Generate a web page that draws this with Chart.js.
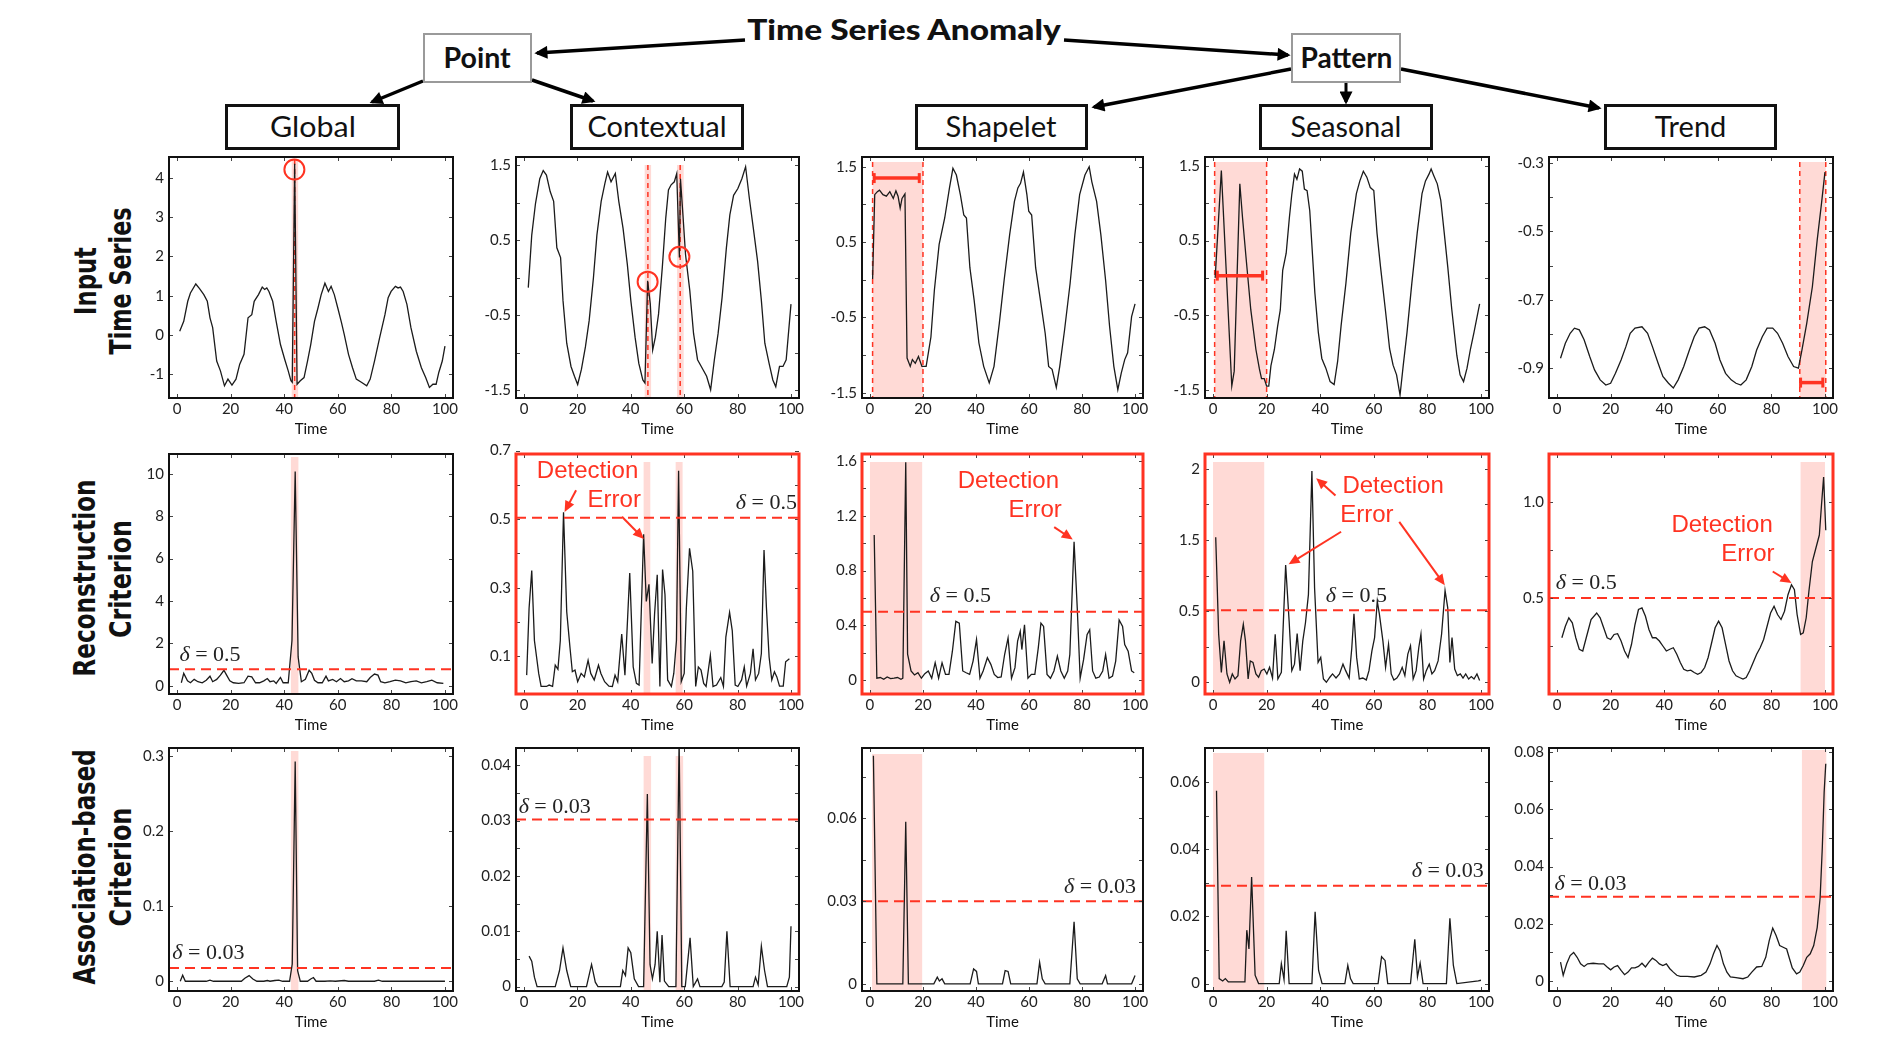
<!DOCTYPE html>
<html lang="en">
<head>
<meta charset="UTF-8">
<title>Time Series Anomaly</title>
<script src="https://cdn.jsdelivr.net/npm/chart.js"></script>
<style>
  html, body { margin: 0; padding: 0; background: #fff; }
  body { width: 1890px; height: 1046px; position: relative; overflow: hidden; font-family: Lato, "Liberation Sans", sans-serif; color: #111; }
  canvas.panel { position: absolute; }
  .hdr { position: absolute; box-sizing: border-box; display: flex; align-items: center; justify-content: center; background: #fff; padding-bottom: 4px; }
  .hdr span, .title span { display: inline-block; white-space: nowrap; }
  .leaf { border: 3px solid #111; font-size: 29px; }
  .root { border: 2px solid #9a9a9a; font-size: 29px; font-weight: 700; }
  .title { position: absolute; font-size: 28px; font-weight: 900; transform: translate(-50%, -50%); }
  .rowlab { position: absolute; white-space: nowrap; font-family: "DejaVu Sans", sans-serif; font-weight: bold; font-size: 30px; line-height: 1; }
  svg.arrows { position: absolute; left: 0; top: 0; }
</style>
</head>
<body>
<svg class="arrows" width="1890" height="160">
  <defs>
    <marker id="ah" viewBox="0 0 10 10" refX="8" refY="5" markerWidth="15" markerHeight="13" markerUnits="userSpaceOnUse" orient="auto">
      <path d="M0,0 L10,5 L0,10 z" fill="#000"/>
    </marker>
  </defs>
  <line x1="745" y1="40" x2="537" y2="53" stroke="#000" stroke-width="3.5" marker-end="url(#ah)"/>
  <line x1="1064" y1="40" x2="1288" y2="55" stroke="#000" stroke-width="3.5" marker-end="url(#ah)"/>
  <line x1="423" y1="81" x2="372" y2="102" stroke="#000" stroke-width="3.5" marker-end="url(#ah)"/>
  <line x1="532" y1="80" x2="593" y2="101" stroke="#000" stroke-width="3.5" marker-end="url(#ah)"/>
  <line x1="1291" y1="69" x2="1094" y2="107" stroke="#000" stroke-width="3.5" marker-end="url(#ah)"/>
  <line x1="1346" y1="83" x2="1346" y2="102" stroke="#000" stroke-width="3" marker-end="url(#ah)"/>
  <line x1="1401" y1="69" x2="1599" y2="108" stroke="#000" stroke-width="3.5" marker-end="url(#ah)"/>
</svg>

<script>
// ---------- data ----------
const xTicks = [0, 20, 40, 60, 80, 100];
const xLabels = ['0', '20', '40', '60', '80', '100'];

// row 1: input time series  [time, value]
const inputGlobal = [[1,0.1],[2.5,0.35],[4,0.86],[5,1.07],[7,1.3],[8.4,1.18],[10,1.03],[11.3,0.86],[12.3,0.44],[13.3,0.19],[14.8,-0.66],[16.2,-0.91],[17.7,-1.29],[19,-1.12],[20.5,-1.27],[22,-1.12],[23.4,-0.74],[25,-0.49],[26.5,0.44],[27.9,0.52],[28.8,0.86],[30.4,1.03],[31.8,1.22],[32.7,1.16],[33.5,1.2],[34.3,1.11],[35.7,0.86],[37,0.35],[38.6,-0.24],[40.2,-0.62],[41.5,-0.91],[42.5,-1.16],[43,-1.2],[43.9,4.36],[44.8,-1.25],[46,-1.16],[47.4,-1.08],[48.7,-0.66],[49.9,-0.24],[51.3,0.35],[52.6,0.69],[53.8,1.03],[55.2,1.32],[56.5,1.11],[57.5,1.24],[58.7,1.03],[60,0.69],[61.4,0.31],[62.4,0.02],[64,-0.49],[65.5,-0.83],[66.9,-1.12],[68.8,-1.2],[70.8,-1.29],[72.1,-1.12],[73.7,-0.66],[75.6,-0.07],[77.6,0.52],[78.8,0.95],[79.9,1.11],[81.5,1.24],[82.5,1.2],[83.4,1.22],[84.4,1.11],[85.8,0.78],[87.3,0.19],[89.3,-0.41],[91.2,-0.83],[92.8,-1.08],[94.2,-1.33],[95.5,-1.25],[96.7,-1.25],[97.7,-0.95],[99,-0.66],[100,-0.28]];
const inputContextual = [[1.6,-0.13],[2.9,0.57],[4.3,0.99],[5.9,1.32],[7.2,1.43],[8.4,1.37],[9.8,1.15],[11.1,1.02],[12.3,0.4],[13.7,0.27],[14.6,-0.3],[16,-0.87],[17.6,-1.18],[18.9,-1.31],[20.1,-1.42],[21.5,-1.22],[23,-0.92],[24.4,-0.57],[26,0],[27.3,0.57],[28.9,1.02],[30.3,1.26],[31.3,1.41],[32.6,1.28],[34.2,1.39],[35.5,1.02],[37.1,0.66],[38.7,0.18],[40,-0.3],[41.6,-0.79],[43,-1.14],[44.5,-1.36],[45.3,-1.4],[46.3,-0.04],[47.3,-0.35],[48.2,-0.96],[49.2,-0.79],[50.4,-0.48],[51.8,0.14],[53.1,0.8],[54.1,1.17],[55.1,1.24],[56.3,1.28],[57.2,1.39],[58.2,0.27],[58.6,1.32],[59.6,0.8],[60.5,0.31],[62.1,-0.17],[63.5,-0.74],[65,-1.09],[66.4,-1.18],[68.4,-1.31],[69.9,-1.49],[71.3,-1.09],[72.7,-0.74],[74.2,-0.26],[75.8,0.4],[77.1,0.84],[78.5,1.1],[80.1,1.19],[81.6,1.32],[83,1.48],[84.4,1.06],[85.9,0.66],[87.5,0.22],[88.9,-0.3],[90.2,-0.87],[91.8,-1.14],[93.2,-1.36],[94.3,-1.45],[95.7,-1.18],[97,-1.18],[98.2,-1.09],[100,-0.35]];
const inputShapelet = [[1,0.01],[1.8,1.13],[2.8,1.17],[3.6,1.19],[4.9,1.13],[6.2,1.11],[7.5,1.17],[8.8,1.08],[9.8,1.18],[10.6,1.11],[11.4,0.95],[12.1,1.08],[13.2,1.14],[14,-1.04],[15.2,-1.15],[16,-1.06],[17.1,-1.11],[18.3,-1.02],[19.6,-1.15],[21.2,-1.15],[23,-0.76],[24.3,-0.14],[26.1,0.47],[28.2,0.82],[30,1.22],[31.3,1.48],[32.6,1.39],[34.1,1.13],[35.4,0.86],[36.4,0.82],[37.7,0.16],[39.3,-0.27],[41.1,-0.84],[42.9,-1.15],[45,-1.37],[46.8,-1.15],[48.8,-0.58],[50.6,-0.01],[52.7,0.6],[54.5,1.04],[55.8,1.22],[56.8,1.28],[57.9,1.43],[59.2,1.13],[59.9,0.91],[61,0.86],[62.5,0.16],[64.3,-0.27],[66.1,-0.71],[67.4,-1.15],[68.7,-1.19],[70.3,-1.43],[71.6,-1.15],[73.4,-0.67],[75.5,-0.05],[77.3,0.6],[79.1,1.13],[81.1,1.39],[82.7,1.5],[83.7,1.3],[85.5,1.04],[87.1,0.6],[88.9,-0.01],[90.4,-0.62],[92,-1.15],[93.5,-1.46],[94.8,-1.24],[96.1,-1.06],[97.2,-0.97],[98.7,-0.49],[100,-0.32]];
const inputSeasonal = [[0.8,0.0],[3.1,1.44],[7,-1.45],[7.9,-1.25],[10,1.26],[11,0.81],[12.3,0.28],[14.1,-0.43],[16,-0.96],[17.3,-1.22],[18.1,-1.35],[19.1,-1.35],[20,-1.45],[20.8,-1.45],[21.6,-1.18],[22.9,-0.96],[24.1,-0.65],[25.1,-0.43],[26,0.1],[27.3,0.33],[28.5,0.81],[29.4,1.12],[30.4,1.39],[31.3,1.32],[32.3,1.46],[33.3,1.43],[34.1,1.19],[35.1,1.17],[36.1,0.9],[38,-0.2],[39.3,-0.73],[40.6,-1.08],[42.1,-1.21],[43.7,-1.39],[45.2,-1.43],[46.5,-1.12],[47.8,-0.64],[49.6,-0.07],[51.4,0.6],[53.5,1.13],[54.8,1.3],[56.1,1.43],[57.4,1.35],[58.7,1.21],[60,1.17],[61.2,0.6],[62.5,0.15],[64.3,-0.42],[65.9,-0.95],[67.2,-1.17],[68.5,-1.3],[69.8,-1.57],[71,-1.17],[72.4,-0.73],[74.2,-0.07],[76.2,0.6],[78,1.13],[79.3,1.3],[80.6,1.39],[81.4,1.46],[82.4,1.37],[83.7,1.26],[85,1.04],[86.3,0.6],[87.6,0.15],[89.1,-0.42],[91,-1.04],[92.2,-1.3],[93.5,-1.39],[94.8,-1.21],[96.1,-0.95],[97.4,-0.73],[99.5,-0.35]];
const inputTrend = [[1.3,-0.871],[3.1,-0.827],[4.9,-0.798],[6.5,-0.783],[8.3,-0.788],[10.1,-0.817],[12.2,-0.866],[14,-0.905],[16.1,-0.934],[18.2,-0.949],[20,-0.944],[21.8,-0.915],[23.9,-0.876],[25.7,-0.837],[27.3,-0.798],[29.1,-0.783],[31.7,-0.779],[33.8,-0.798],[35.6,-0.837],[37.7,-0.885],[39.5,-0.924],[41.6,-0.944],[43.4,-0.958],[45.2,-0.934],[47.3,-0.895],[49.4,-0.847],[51.2,-0.808],[53,-0.783],[55.1,-0.779],[56.9,-0.788],[59,-0.827],[60.8,-0.876],[62.9,-0.915],[65,-0.934],[66.8,-0.944],[68.6,-0.949],[70.6,-0.934],[72.7,-0.895],[74.5,-0.847],[76.6,-0.808],[78.4,-0.783],[80.5,-0.783],[82.3,-0.798],[84.2,-0.827],[86.2,-0.866],[88.3,-0.895],[90.1,-0.9],[91.4,-0.847],[93.2,-0.769],[95.3,-0.662],[97.1,-0.526],[98.7,-0.419],[100,-0.327]];

// row 2: reconstruction criterion
const reconGlobal = [[1.6,0.14],[2.5,0.58],[3.9,0.23],[5,0.14],[6.4,0.3],[7.8,0.19],[9.4,0.14],[10.9,0.26],[12.3,0.45],[13.3,0.19],[14.8,0.3],[16.2,0.5],[17.5,0.73],[18.5,0.5],[19.7,0.23],[21,0.14],[23,0.11],[25,0.14],[26.5,0.45],[27.9,0.42],[29.3,0.14],[30.8,0.14],[32.4,0.23],[33.7,0.34],[34.7,0.19],[36.1,0.23],[37,0.11],[38.6,0.39],[39.6,0.14],[41.5,0.14],[42.9,2.13],[44.1,10.1],[45.2,1.36],[46.4,0.19],[47.9,0.3],[49.3,0.73],[50.3,0.58],[51.3,0.26],[52.6,0.14],[54.2,0.14],[55.6,0.45],[56.5,0.23],[58.1,0.3],[59.5,0.19],[61,0.34],[62.4,0.19],[64,0.23],[65.3,0.33],[66.9,0.23],[68.8,0.23],[70.8,0.19],[72.1,0.39],[73.7,0.55],[75,0.5],[76,0.19],[77.6,0.14],[79.5,0.19],[81.5,0.26],[83.4,0.23],[85.4,0.14],[87.3,0.19],[89.3,0.23],[91.2,0.14],[93.2,0.19],[95.1,0.26],[97.1,0.14],[99.4,0.11]];
const reconContextual = [[1,0.045],[1.9,0.24],[2.9,0.35],[3.9,0.146],[5.5,0.05],[6.4,0.012],[8.4,0.012],[9.4,0.016],[10.7,0.012],[11.7,0.074],[12.7,0.062],[13.6,0.146],[14.8,0.52],[16,0.23],[17.2,0.127],[18.1,0.055],[19.1,0.06],[20.1,0.026],[21.4,0.05],[22.6,0.04],[24,0.088],[25,0.05],[26.3,0.031],[27.9,0.074],[28.8,0.05],[30.2,0.026],[31.8,0.013],[33.1,0.012],[34.1,0.045],[35.1,0.026],[36.6,0.165],[37.8,0.045],[39.6,0.343],[40.9,0.069],[42.1,0.021],[43.1,0.016],[44.8,0.456],[45.8,0.26],[46.8,0.31],[48,0.079],[48.9,0.223],[49.9,0.338],[50.9,0.012],[51.9,0.353],[52.8,0.28],[53.8,0.031],[55.2,0.012],[56.1,0.05],[57.1,0.146],[57.9,0.641],[58.9,0.026],[60,0.05],[60.8,0.24],[62,0.415],[63.2,0.348],[64.3,0.012],[65.3,0.069],[66.3,0.06],[67.3,0.021],[68.2,0.012],[69.8,0.103],[70.8,0.012],[72.1,0.016],[73.7,0.038],[74.7,0.012],[75.6,0.156],[77,0.228],[78,0.175],[79.1,0.016],[80.1,0.012],[81.5,0.031],[82.5,0.069],[83.4,0.013],[84.8,0.05],[85.8,0.122],[86.7,0.031],[87.9,0.05],[88.9,0.108],[89.9,0.41],[90.8,0.242],[91.8,0.098],[92.8,0.031],[93.8,0.055],[94.7,0.04],[95.7,0.013],[97.1,0.013],[98,0.084],[99.4,0.093]];
const reconShapelet = [[1.6,1.06],[2.6,0.015],[3.9,0.02],[5.2,0.007],[6.5,0.024],[7.8,0.012],[9.1,0.015],[10.4,0.02],[11.7,0.007],[12.4,0.015],[13.5,1.59],[14.2,0.19],[15.5,0.068],[16.8,0.039],[18.1,0.055],[19.4,0.015],[20.7,0.048],[22,0.068],[23.3,0.015],[24.6,0.128],[25.9,0.015],[27.2,0.128],[28.5,0.043],[29.8,0.043],[31.1,0.212],[32.4,0.43],[33.7,0.417],[35,0.068],[36.3,0.055],[37.6,0.043],[38.9,0.14],[40.2,0.297],[41.5,0.015],[42.7,0.068],[44.3,0.164],[45.6,0.116],[46.9,0.043],[48.2,0.02],[49.5,0.024],[50.8,0.188],[52.1,0.309],[53.4,0.015],[54.7,0.092],[55.7,0.285],[56.7,0.357],[57.3,0.224],[58.3,0.405],[59.6,0.015],[60.9,0.043],[62.2,0.043],[63.5,0.236],[64.5,0.417],[65.5,0.393],[66.8,0.043],[68.1,0.015],[69.4,0.068],[70.7,0.176],[72,0.068],[73.3,0.015],[74.6,0.068],[75.4,0.188],[77,1.01],[78.2,0.526],[79.3,0.015],[80.6,0.152],[81.9,0.333],[82.9,0.369],[84,0.068],[85.2,0.015],[86.5,0.024],[87.8,0.068],[88.9,0.188],[90.2,0.015],[91.5,0.031],[92.7,0.14],[94,0.44],[95.3,0.393],[96.1,0.26],[97.4,0.212],[98.7,0.068],[99.7,0.055]];
const reconSeasonal = [[1,1.36],[2.1,0.45],[3.1,0.093],[4.1,0.388],[5.2,0.078],[6.2,0],[7.2,0.078],[8.2,0.031],[9.3,0.062],[10.3,0.388],[11.3,0.543],[12.1,0.388],[13.1,0.031],[13.9,0.2],[14.9,0.186],[16,0.078],[17,0.047],[18,0.109],[19.1,0.124],[20.1,0.078],[21.1,0.14],[22.2,0.04],[23.2,0.45],[24.2,0.031],[25.5,0.093],[27.1,1.1],[28.4,0.574],[29.4,0.109],[30.4,0.17],[31.4,0.456],[32.5,0.109],[33.5,0.388],[34.5,0.558],[35.6,0.822],[36.9,1.98],[37.9,0.884],[39.2,0.186],[40.2,0.233],[41.2,0.031],[42.3,0],[43.6,0.047],[44.6,0.078],[45.9,0.04],[47.2,0.078],[48.5,0.17],[49.5,0.109],[50.8,0.04],[51.8,0.326],[52.6,0.642],[53.6,0.233],[54.6,0.031],[55.9,0.04],[57.2,0.022],[58.2,0.109],[59.3,0.295],[60.3,0.419],[61.3,0.76],[62.1,0.636],[63.4,0.388],[64.4,0.14],[65.5,0.357],[66.5,0.078],[67.5,0.022],[68.6,0.04],[69.6,0.078],[70.6,0.14],[71.6,0.062],[72.7,0.264],[73.7,0.341],[74.7,0.031],[75.8,0.109],[76.8,0.326],[77.6,0.45],[78.6,0.031],[79.6,0.109],[80.7,0.17],[81.7,0.078],[82.7,0.109],[84,0.2],[85.3,0.45],[86.6,0.86],[87.6,0.698],[88.4,0.186],[89.2,0.419],[90.2,0.124],[91.2,0.062],[92.3,0.078],[93.3,0.04],[94.3,0.078],[95.4,0.031],[96.4,0.053],[97.4,0.031],[98.5,0.078],[99.5,0.016]];
const reconTrend = [[1.8,0.293],[3.1,0.353],[4.4,0.397],[5.7,0.371],[7,0.293],[8.3,0.233],[9.6,0.224],[10.9,0.293],[12.7,0.388],[14.8,0.422],[16.1,0.397],[17.4,0.345],[18.7,0.293],[20,0.284],[21.3,0.31],[22.6,0.314],[23.9,0.276],[25.2,0.224],[26.5,0.19],[27.8,0.259],[29.1,0.362],[30.4,0.44],[31.7,0.448],[33,0.405],[34.3,0.336],[35.6,0.293],[36.9,0.293],[38.2,0.276],[39.5,0.25],[40.8,0.224],[42.1,0.233],[43.4,0.241],[44.7,0.207],[46,0.164],[47.3,0.129],[48.6,0.121],[49.9,0.124],[51.2,0.112],[52.5,0.103],[53.8,0.112],[55.1,0.138],[56.4,0.19],[57.7,0.267],[59,0.345],[60.3,0.379],[61.6,0.345],[62.9,0.259],[64.2,0.172],[65.5,0.121],[66.8,0.095],[68.1,0.086],[69.4,0.078],[70.6,0.086],[71.9,0.121],[73.2,0.164],[74.5,0.207],[75.8,0.241],[77.1,0.284],[78.4,0.353],[79.7,0.422],[81,0.457],[82.3,0.414],[83.6,0.388],[84.9,0.431],[86.2,0.517],[87.5,0.569],[88.6,0.543],[89.6,0.414],[90.9,0.31],[91.9,0.319],[93,0.397],[94,0.534],[95.3,0.69],[96.6,0.759],[97.9,0.828],[98.7,0.983],[99.5,1.13],[100.3,0.853]];

// row 3: association-based criterion
const assocGlobal = [[1.2,0],[2.1,0.008],[3.1,0],[4.5,0],[7.4,0],[10.9,0],[12.3,0.0015],[13.6,0],[19.1,0],[24,0],[25.3,0.004],[26.9,0.0075],[28.3,0.003],[29.8,0],[32.4,0],[33.7,0.001],[34.7,0],[36.5,0.001],[38,0.0015],[39.4,0],[42,0],[43,0.023],[44.1,0.293],[45,0.014],[46,0],[48.7,0],[49.9,0.003],[50.9,0.005],[51.9,0],[55.2,0],[57.1,0.0005],[59.1,0],[62.4,0.001],[64,0],[73.7,0],[75.2,0.0015],[76.6,0],[89.3,0],[100,0]];
const assocContextual = [[1.9,0.0055],[2.9,0.0046],[3.9,0.0017],[4.9,0],[11.7,0],[13.3,0.0029],[14.6,0.007],[16,0.0029],[17.5,0],[23.4,0],[25.3,0.004],[26.7,0.0008],[27.7,0],[36.1,0],[37,0.0029],[38,0.002],[39,0.007],[40,0.0061],[41.3,0.0014],[42.9,0],[44.8,0],[46.2,0.0348],[47.2,0.004],[48.1,0.0014],[49.1,0.004],[49.9,0.01],[50.9,0.0008],[51.7,0.0093],[52.6,0.001],[54.2,0],[56.9,0],[58.1,0.0445],[59.1,0],[60.4,0],[62.2,0.0088],[63.4,0],[65,0.0014],[65.9,0],[74.1,0],[75,0.0008],[76,0.01],[77.2,0],[85.8,0],[86.7,0.0017],[87.7,0.0003],[88.9,0.0073],[90.1,0.0029],[91.2,0],[98.4,0],[99.4,0.0017],[100,0.0109]];
const assocShapelet = [[1.3,0.0827],[2.6,0],[12.4,0],[13.5,0.0588],[14.5,0],[24.1,0],[25.4,0.0024],[26.2,0.001],[27.2,0.0018],[28.2,0],[37.8,0],[39.1,0.0054],[40.2,0.0045],[40.9,0],[50,0],[51,0.0048],[52.1,0.0045],[53.1,0],[63,0],[64,0.0078],[65,0.0018],[66.1,0],[75.4,0],[77,0.0225],[78.2,0.0018],[79.3,0],[87.6,0],[88.9,0.003],[89.6,0],[98.7,0],[100,0.003]];
const assocSeasonal = [[1.3,0.0574],[2.3,0.0015],[3.6,0.0008],[4.6,0.0015],[5.7,0.0005],[11.9,0.0005],[12.6,0.0159],[13.4,0.0103],[14.4,0.0317],[15.7,0.0025],[17,0],[24.7,0],[25.5,0.0059],[26.5,0.0012],[27.3,0.0157],[28.4,0],[36.9,0],[38.1,0.0214],[39.4,0.0039],[40.7,0],[49.2,0],[50.3,0.0054],[51.3,0.0015],[52.3,0],[61.6,0],[62.9,0.008],[64.2,0.0069],[65.2,0],[73.7,0],[75.3,0.0132],[76.3,0.002],[77.3,0.0061],[78.4,0],[87.1,0],[88.4,0.0194],[89.7,0.0054],[91,0],[99,0.0008],[100,0.001]];
const assocTrend = [[1.3,0.0066],[2.3,0.002],[3.6,0.006],[4.9,0.0089],[6.2,0.01],[7.5,0.0083],[8.8,0.006],[10.1,0.0051],[11.4,0.006],[13.5,0.0062],[15.6,0.006],[17.4,0.006],[18.7,0.0049],[20,0.0039],[21.3,0.0049],[22.6,0.0054],[23.9,0.0037],[25.2,0.0022],[26.5,0.0031],[27.8,0.0046],[29.1,0.0046],[30.4,0.0051],[31.7,0.0062],[33,0.0049],[34.3,0.0066],[35.6,0.008],[36.9,0.0072],[38.2,0.006],[39.5,0.0054],[40.8,0.006],[42.1,0.0043],[43.4,0.0031],[44.7,0.002],[46,0.0016],[48.6,0.0016],[51.2,0.0014],[53.8,0.002],[55.6,0.0031],[57.1,0.006],[58.4,0.0095],[59.7,0.0124],[60.8,0.0106],[62.1,0.006],[63.4,0.0031],[64.7,0.0014],[66.8,0.0012],[69.4,0.0008],[71.2,0.0014],[72.7,0.0031],[74.5,0.0049],[76.4,0.0051],[77.9,0.0083],[79.2,0.0141],[80.5,0.0185],[81.8,0.0158],[83.1,0.0124],[84.4,0.0118],[85.7,0.0112],[86.8,0.0077],[87.8,0.0046],[89.4,0.0025],[90.6,0.0031],[91.9,0.0054],[93.2,0.0083],[94.5,0.0095],[95.8,0.0124],[97.1,0.0187],[98.2,0.0291],[99,0.0465],[99.7,0.0661],[100.3,0.076]];

// y tick values and their labels
const tickHalf = [-1.5, -1, -0.5, 0, 0.5, 1, 1.5];
const labelHalf = ['-1.5', '', '-0.5', '', '0.5', '', '1.5'];

const RED = '#ff3322';
const colL = [169, 516, 862, 1205, 1549];
const colR = [453, 799, 1143, 1489, 1833];
const rowT = [155, 452, 746];
const rowB = [398, 694, 991];

const panels = [
  { row: 0, col: 0, data: inputGlobal, yMin: -1.6, yMax: 4.53, yTicks: [-1, 0, 1, 2, 3, 4], yLabels: ['-1', '0', '1', '2', '3', '4'],
    bands: [[42.8, 45.2]], inset: 3, vlines: [43.9], circles: [[43.8, 4.21]] },
  { row: 0, col: 1, data: inputContextual, yMin: -1.6, yMax: 1.61, yTicks: tickHalf, yLabels: labelHalf,
    bands: [[45.2, 47.6], [57.3, 59.8]], inset: 8, vlines: [46.4, 58.5], circles: [[46.3, -0.05], [58.2, 0.28]] },
  { row: 0, col: 2, data: inputShapelet, yMin: -1.57, yMax: 1.63, yTicks: tickHalf, yLabels: labelHalf,
    bands: [[1, 20]], inset: 5, vlines: [1, 20], ibar: [1.6, 18.6, 1.35] },
  { row: 0, col: 3, data: inputSeasonal, yMin: -1.61, yMax: 1.62, yTicks: tickHalf, yLabels: labelHalf,
    bands: [[0.6, 20]], inset: 5, vlines: [0.6, 20], ibar: [1.6, 18.5, 0.03] },
  { row: 0, col: 4, data: inputTrend, yMin: -0.987, yMax: -0.283, yTicks: [-0.9, -0.8, -0.7, -0.6, -0.5, -0.4, -0.3], yLabels: ['-0.9', '', '-0.7', '', '-0.5', '', '-0.3'],
    bands: [[90.6, 100.3]], inset: 5, vlines: [90.6, 100.3], ibar: [90.9, 99.2, -0.942] },

  { row: 1, col: 0, data: reconGlobal, yMin: -0.39, yMax: 10.93, yTicks: [0, 2, 4, 6, 8, 10], yLabels: ['0', '2', '4', '6', '8', '10'],
    bands: [[42.5, 45.3]], inset: 3, thr: 0.78, delta: ['0.5', 12.3, 1.43] },
  { row: 1, col: 1, data: reconContextual, yMin: -0.01, yMax: 0.69, yTicks: [0.1, 0.2, 0.3, 0.4, 0.5, 0.6, 0.7], yLabels: ['0.1', '', '0.3', '', '0.5', '', '0.7'],
    bands: [[44.8, 47.3], [56.8, 59.4]], inset: 8, thr: 0.504, delta: ['0.5', 91, 0.545], redFrame: true,
    texts: [['Detection', 23.8, 0.638], ['Error', 33.8, 0.555]], arrows: [[19.5, 0.584, 15.2, 0.521], [36.7, 0.507, 44.9, 0.442]] },
  { row: 1, col: 2, data: reconShapelet, yMin: -0.1, yMax: 1.65, yTicks: [0, 0.2, 0.4, 0.6, 0.8, 1, 1.2, 1.4, 1.6], yLabels: ['0', '', '0.4', '', '0.8', '', '1.2', '', '1.6'],
    bands: [[0, 19.7]], inset: 8, thr: 0.5, delta: ['0.5', 34.1, 0.61], redFrame: true,
    texts: [['Detection', 52.2, 1.448], ['Error', 62.3, 1.238]], arrows: [[69.5, 1.117, 76.5, 1.026]] },
  { row: 1, col: 3, data: reconSeasonal, yMin: -0.11, yMax: 2.14, yTicks: [0, 1 / 3, 2 / 3, 1, 4 / 3, 5 / 3, 2], yLabels: ['0', '', '0.5', '', '1.5', '', '2'],
    bands: [[0, 19.1]], inset: 8, thr: 0.676, delta: ['0.5', 53.5, 0.806], redFrame: true,
    texts: [['Detection', 67.2, 1.839], ['Error', 57.4, 1.566]],
    arrows: [[45.7, 1.752, 38.5, 1.913], [47.8, 1.411, 28.2, 1.107], [69.5, 1.504, 86.5, 0.909]] },
  { row: 1, col: 4, data: reconTrend, yMin: 0, yMax: 1.25, yTicks: [0.25, 0.5, 0.75, 1.0], yLabels: ['', '0.5', '', '1.0'],
    bands: [[90.9, 100]], inset: 8, thr: 0.5, delta: ['0.5', 10.9, 0.578], redFrame: true,
    texts: [['Detection', 61.6, 0.879], ['Error', 71.2, 0.728]], arrows: [[80.5, 0.638, 87.5, 0.578]] },

  { row: 2, col: 0, data: assocGlobal, yMin: -0.013, yMax: 0.311, yTicks: [0, 0.1, 0.2, 0.3], yLabels: ['0', '0.1', '0.2', '0.3'],
    bands: [[42.5, 45.3]], inset: 3, thr: 0.0176, delta: ['0.03', 11.7, 0.037] },
  { row: 2, col: 1, data: assocContextual, yMin: -0.0008, yMax: 0.0431, yTicks: [0, 0.005, 0.01, 0.015, 0.02, 0.025, 0.03, 0.035, 0.04], yLabels: ['0', '', '0.01', '', '0.02', '', '0.03', '', '0.04'],
    bands: [[44.8, 47.6], [56.8, 59.6]], inset: 8, thr: 0.0302, delta: ['0.03', 11.5, 0.0324] },
  { row: 2, col: 2, data: assocShapelet, yMin: -0.0026, yMax: 0.0855, yTicks: [0, 0.015, 0.03, 0.045, 0.06, 0.075], yLabels: ['0', '', '0.03', '', '0.06', ''],
    bands: [[0.8, 19.7]], inset: 6, thr: 0.0299, delta: ['0.03', 86.8, 0.035] },
  { row: 2, col: 3, data: assocSeasonal, yMin: -0.0022, yMax: 0.0701, yTicks: [0, 0.01, 0.02, 0.03, 0.04, 0.05, 0.06, 0.07], yLabels: ['0', '', '0.02', '', '0.04', '', '0.06', ''],
    bands: [[0, 19.1]], inset: 5, thr: 0.0291, delta: ['0.03', 87.6, 0.0335] },
  { row: 2, col: 4, data: assocTrend, yMin: -0.0035, yMax: 0.0815, yTicks: [0, 0.01, 0.02, 0.03, 0.04, 0.05, 0.06, 0.07, 0.08], yLabels: ['0', '', '0.02', '', '0.04', '', '0.06', '', '0.08'],
    bands: [[91.4, 100.5]], inset: 2, thr: 0.0295, delta: ['0.03', 12.5, 0.034] }
];

// ---------- headers ----------
const headerBoxes = [
  ['Point', 423, 33, 532, 83, 'root', 67],
  ['Pattern', 1291, 33, 1401, 83, 'root', 92],
  ['Global', 225, 104, 400, 150, 'leaf', 86],
  ['Contextual', 570, 104, 744, 150, 'leaf', 139],
  ['Shapelet', 915, 104, 1088, 150, 'leaf', 111],
  ['Seasonal', 1259, 104, 1433, 150, 'leaf', 111],
  ['Trend', 1604, 104, 1777, 150, 'leaf', 72]
];
const rowLabels = [
  ['Input', 86, 281, 68], ['Time Series', 121, 281, 147],
  ['Reconstruction', 85, 578, 197], ['Criterion', 121, 579, 118],
  ['Association-based', 85, 867, 235], ['Criterion', 121, 867, 119]
];

function fit(span, target) {
  const w = span.offsetWidth;
  return target / w;
}

const title = document.createElement('div');
title.className = 'title';
title.style.left = '904px'; title.style.top = '29px';
title.innerHTML = '<span>Time Series Anomaly</span>';
document.body.appendChild(title);
const ts = title.firstChild;
ts.style.transform = 'scaleX(' + fit(ts, 313) + ')';

headerBoxes.forEach(([t, l, tp, r, b, cls, tw]) => {
  const d = document.createElement('div');
  d.className = 'hdr ' + cls;
  d.style.left = l + 'px'; d.style.top = tp + 'px';
  d.style.width = (r - l) + 'px'; d.style.height = (b - tp) + 'px';
  const s = document.createElement('span');
  s.textContent = t;
  d.appendChild(s);
  document.body.appendChild(d);
  s.style.transform = 'scaleX(' + fit(s, tw) + ')';
});

rowLabels.forEach(([t, cx, cy, len]) => {
  const d = document.createElement('div');
  d.className = 'rowlab';
  d.textContent = t;
  d.style.left = cx + 'px'; d.style.top = cy + 'px';
  document.body.appendChild(d);
  const k = len / d.offsetWidth;
  d.style.transform = 'translate(-50%, -50%) rotate(-90deg) scaleX(' + k + ')';
});

// ---------- charts ----------
Chart.defaults.font.family = 'Lato, "Liberation Sans", sans-serif';
Chart.defaults.color = '#222';

function arrowHead(ctx, x1, y1, x2, y2) {
  const a = Math.atan2(y2 - y1, x2 - x1);
  ctx.beginPath();
  ctx.moveTo(x1, y1);
  ctx.lineTo(x2 - 6 * Math.cos(a), y2 - 6 * Math.sin(a));
  ctx.stroke();
  ctx.beginPath();
  ctx.moveTo(x2, y2);
  ctx.lineTo(x2 - 11 * Math.cos(a) + 5 * Math.sin(a), y2 - 11 * Math.sin(a) - 5 * Math.cos(a));
  ctx.lineTo(x2 - 11 * Math.cos(a) - 5 * Math.sin(a), y2 - 11 * Math.sin(a) + 5 * Math.cos(a));
  ctx.closePath();
  ctx.fill();
}

function makeDecor(p) {
  return {
    id: 'decor',
    beforeDatasetsDraw(chart) {
      const { ctx, chartArea: a, scales: { x, y } } = chart;
      ctx.save();
      ctx.fillStyle = '#ffdad6';
      p.bands.forEach(([x0, x1]) => {
        const p0 = Math.max(a.left, x.getPixelForValue(x0));
        const p1 = Math.min(a.right, x.getPixelForValue(x1));
        ctx.fillRect(p0, a.top + p.inset, p1 - p0, a.bottom - a.top - p.inset);
      });
      if (p.vlines) {
        ctx.strokeStyle = RED;
        ctx.lineWidth = 1.5;
        ctx.setLineDash([5, 4]);
        p.vlines.forEach(v => {
          const px = Math.min(a.right - 1, x.getPixelForValue(v));
          ctx.beginPath();
          ctx.moveTo(px, a.top + p.inset);
          ctx.lineTo(px, a.bottom);
          ctx.stroke();
        });
      }
      ctx.restore();
    },
    afterDraw(chart) {
      const { ctx, chartArea: a, scales: { x, y } } = chart;
      ctx.save();
      // inward tick marks
      ctx.strokeStyle = '#444';
      ctx.lineWidth = 1;
      ctx.beginPath();
      p.yTicks.forEach(v => {
        const py = Math.round(y.getPixelForValue(v)) + 0.5;
        ctx.moveTo(a.left, py); ctx.lineTo(a.left + 4, py);
        ctx.moveTo(a.right - 4, py); ctx.lineTo(a.right, py);
      });
      xTicks.forEach(v => {
        const px = Math.round(x.getPixelForValue(v)) + 0.5;
        ctx.moveTo(px, a.bottom); ctx.lineTo(px, a.bottom - 4);
        ctx.moveTo(px, a.top); ctx.lineTo(px, a.top + 4);
      });
      ctx.stroke();
      // frame
      ctx.strokeStyle = p.redFrame ? RED : '#111';
      ctx.lineWidth = p.redFrame ? 3 : 2;
      ctx.strokeRect(a.left, a.top, a.right - a.left, a.bottom - a.top);
      // threshold label
      if (p.delta) {
        const [val, dx, dy] = p.delta;
        const f1 = 'italic 22px "Liberation Serif"', f2 = '22px "Liberation Serif"';
        ctx.font = f1; const w1 = ctx.measureText('\u03b4').width;
        ctx.font = f2; const w2 = ctx.measureText(' = ' + val).width;
        let sx = x.getPixelForValue(dx) - (w1 + w2) / 2;
        if (sx + w1 + w2 > a.right - 2) sx = a.right - 2 - w1 - w2;
        const py = y.getPixelForValue(dy);
        ctx.fillStyle = '#222';
        ctx.textBaseline = 'middle';
        ctx.textAlign = 'left';
        ctx.font = f1; ctx.fillText('\u03b4', sx, py);
        ctx.font = f2; ctx.fillText(' = ' + val, sx + w1, py);
      }
      // detection error notes
      if (p.texts) {
        ctx.fillStyle = RED;
        ctx.font = '24px "Liberation Sans"';
        ctx.textAlign = 'center';
        ctx.textBaseline = 'middle';
        p.texts.forEach(([t, tx, ty]) => ctx.fillText(t, x.getPixelForValue(tx), y.getPixelForValue(ty)));
        ctx.strokeStyle = RED;
        ctx.lineWidth = 2;
        ctx.setLineDash([]);
        p.arrows.forEach(([x1, y1, x2, y2]) => arrowHead(ctx,
          x.getPixelForValue(x1), y.getPixelForValue(y1), x.getPixelForValue(x2), y.getPixelForValue(y2)));
      }
      ctx.restore();
    }
  };
}

function makePanel(p) {
  const L = colL[p.col], R = colR[p.col], T = rowT[p.row], B = rowB[p.row];
  const padL = 50, padR = 16, padT = 12, axisH = 42;
  const w = (R - L) + padL + padR, h = (B - T) + padT + axisH;
  const cv = document.createElement('canvas');
  cv.className = 'panel';
  cv.width = w; cv.height = h;
  cv.style.left = (L - padL) + 'px'; cv.style.top = (T - padT) + 'px';
  cv.style.width = w + 'px'; cv.style.height = h + 'px';
  document.body.appendChild(cv);

  const datasets = [];
  if (p.thr !== undefined) {
    datasets.push({ data: [{ x: -3, y: p.thr }, { x: 103, y: p.thr }], showLine: true, borderColor: RED,
      borderWidth: 2, borderDash: [10, 6], pointRadius: 0 });
  }
  if (p.circles) {
    datasets.push({ data: p.circles.map(([cx, cy]) => ({ x: cx, y: cy })), pointRadius: 10, pointStyle: 'circle',
      pointBorderColor: RED, pointBorderWidth: 2, pointBackgroundColor: 'rgba(0,0,0,0)' });
  }
  if (p.ibar) {
    const [x0, x1, yy] = p.ibar;
    datasets.push({ data: [{ x: x0, y: yy }, { x: x1, y: yy }], showLine: true, borderColor: RED, borderWidth: 3.5,
      pointStyle: 'line', rotation: 90, pointRadius: 5, pointBorderWidth: 3, pointBorderColor: RED });
  }
  datasets.push({ data: p.data.map(([tx, ty]) => ({ x: tx, y: ty })), showLine: true, borderColor: '#1b1b1b',
    borderWidth: 1.3, pointRadius: 0, tension: 0 });

  new Chart(cv, {
    type: 'scatter',
    data: { datasets },
    options: {
      responsive: false, animation: false, devicePixelRatio: 1, events: [],
      layout: { padding: { left: 0, right: padR, top: padT, bottom: 0 } },
      plugins: { legend: { display: false }, tooltip: { enabled: false } },
      scales: {
        x: {
          type: 'linear', min: -3, max: 103,
          afterBuildTicks: s => { s.ticks = xTicks.map(v => ({ value: v })); },
          afterFit: s => { s.height = axisH; },
          ticks: { autoSkip: false, maxRotation: 0, padding: 2, font: { size: 15 }, color: '#222',
            callback: (v, i) => xLabels[i] },
          grid: { display: false, drawTicks: false }, border: { display: false },
          title: { display: true, text: 'Time', font: { size: 15 }, color: '#111', padding: { top: 0, bottom: 2 } }
        },
        y: {
          type: 'linear', min: p.yMin, max: p.yMax,
          afterBuildTicks: s => { s.ticks = p.yTicks.map(v => ({ value: v })); },
          afterFit: s => { s.width = padL; },
          ticks: { autoSkip: false, padding: 5, font: { size: 15 }, color: '#222',
            callback: (v, i) => p.yLabels[i] },
          grid: { display: false, drawTicks: false }, border: { display: false }
        }
      }
    },
    plugins: [makeDecor(p)]
  });
}

panels.forEach(makePanel);
</script>
</body>
</html>
